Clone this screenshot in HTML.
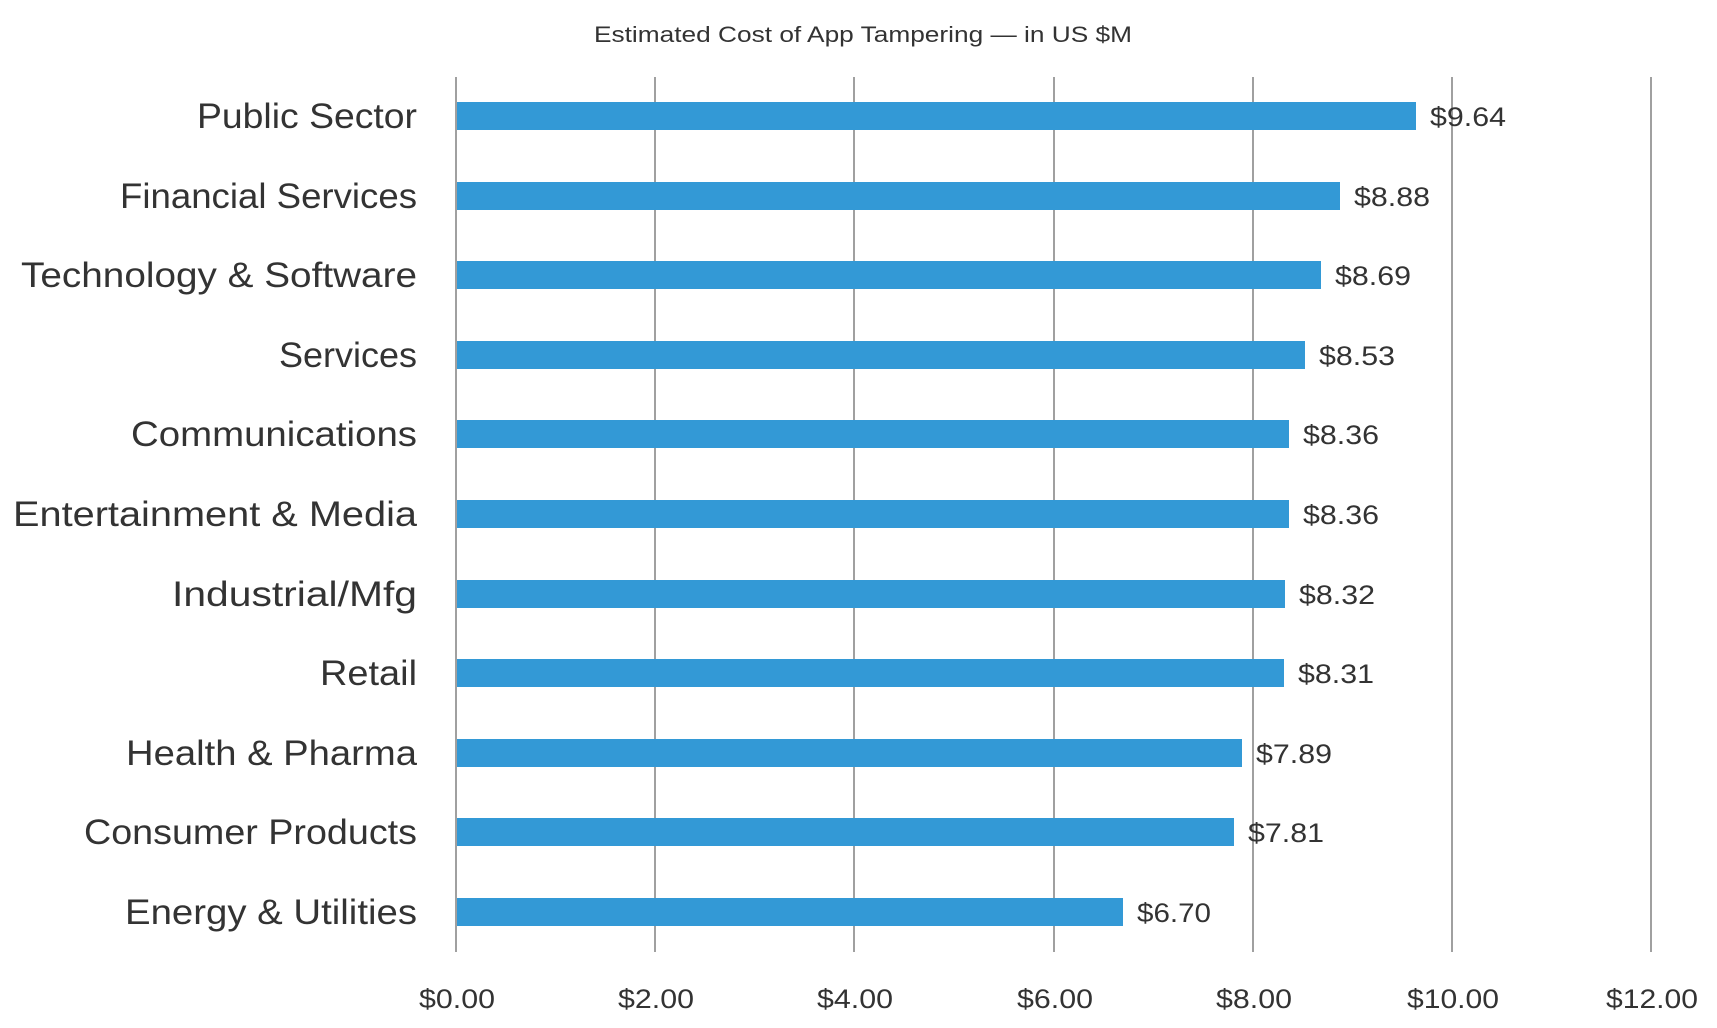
<!DOCTYPE html>
<html><head><meta charset="utf-8"><style>
html,body{margin:0;padding:0;background:#fff;}
svg{display:block;}
text{font-family:"Liberation Sans",sans-serif;fill:#333;}
</style></head><body>
<svg width="1717" height="1028" viewBox="0 0 1717 1028">
<text x="863" y="42" font-size="22" text-anchor="middle" textLength="538" lengthAdjust="spacingAndGlyphs">Estimated Cost of App Tampering — in US $M</text>
<g stroke="#a0a0a0" stroke-width="2">
<line x1="456" y1="77" x2="456" y2="952"/>
<line x1="655" y1="77" x2="655" y2="952"/>
<line x1="854" y1="77" x2="854" y2="952"/>
<line x1="1054" y1="77" x2="1054" y2="952"/>
<line x1="1253" y1="77" x2="1253" y2="952"/>
<line x1="1452" y1="77" x2="1452" y2="952"/>
<line x1="1651" y1="77" x2="1651" y2="952"/>
</g>
<g fill="#3399d6">
<rect x="457" y="102" width="959" height="28"/>
<rect x="457" y="182" width="883" height="28"/>
<rect x="457" y="261" width="864" height="28"/>
<rect x="457" y="341" width="848" height="28"/>
<rect x="457" y="420" width="832" height="28"/>
<rect x="457" y="500" width="832" height="28"/>
<rect x="457" y="580" width="828" height="28"/>
<rect x="457" y="659" width="827" height="28"/>
<rect x="457" y="739" width="785" height="28"/>
<rect x="457" y="818" width="777" height="28"/>
<rect x="457" y="898" width="666" height="28"/>
</g>
<g font-size="35" text-anchor="end">
<text x="417" y="128" textLength="220" lengthAdjust="spacingAndGlyphs">Public Sector</text>
<text x="417" y="208" textLength="297" lengthAdjust="spacingAndGlyphs">Financial Services</text>
<text x="417" y="287" textLength="396" lengthAdjust="spacingAndGlyphs">Technology &amp; Software</text>
<text x="417" y="367" textLength="138" lengthAdjust="spacingAndGlyphs">Services</text>
<text x="417" y="446" textLength="286" lengthAdjust="spacingAndGlyphs">Communications</text>
<text x="417" y="526" textLength="404" lengthAdjust="spacingAndGlyphs">Entertainment &amp; Media</text>
<text x="417" y="606" textLength="245" lengthAdjust="spacingAndGlyphs">Industrial/Mfg</text>
<text x="417" y="685" textLength="97" lengthAdjust="spacingAndGlyphs">Retail</text>
<text x="417" y="765" textLength="291" lengthAdjust="spacingAndGlyphs">Health &amp; Pharma</text>
<text x="417" y="844" textLength="333" lengthAdjust="spacingAndGlyphs">Consumer Products</text>
<text x="417" y="924" textLength="292" lengthAdjust="spacingAndGlyphs">Energy &amp; Utilities</text>
</g>
<g font-size="27">
<text x="1430" y="126" textLength="76" lengthAdjust="spacingAndGlyphs">$9.64</text>
<text x="1354" y="206" textLength="76" lengthAdjust="spacingAndGlyphs">$8.88</text>
<text x="1335" y="285" textLength="76" lengthAdjust="spacingAndGlyphs">$8.69</text>
<text x="1319" y="365" textLength="76" lengthAdjust="spacingAndGlyphs">$8.53</text>
<text x="1303" y="444" textLength="76" lengthAdjust="spacingAndGlyphs">$8.36</text>
<text x="1303" y="524" textLength="76" lengthAdjust="spacingAndGlyphs">$8.36</text>
<text x="1299" y="604" textLength="76" lengthAdjust="spacingAndGlyphs">$8.32</text>
<text x="1298" y="683" textLength="76" lengthAdjust="spacingAndGlyphs">$8.31</text>
<text x="1256" y="763" textLength="76" lengthAdjust="spacingAndGlyphs">$7.89</text>
<text x="1248" y="842" textLength="76" lengthAdjust="spacingAndGlyphs">$7.81</text>
<text x="1137" y="922" textLength="74" lengthAdjust="spacingAndGlyphs">$6.70</text>
</g>
<g font-size="27" text-anchor="middle">
<text x="457" y="1008" textLength="76" lengthAdjust="spacingAndGlyphs">$0.00</text>
<text x="656" y="1008" textLength="76" lengthAdjust="spacingAndGlyphs">$2.00</text>
<text x="855" y="1008" textLength="76" lengthAdjust="spacingAndGlyphs">$4.00</text>
<text x="1055" y="1008" textLength="76" lengthAdjust="spacingAndGlyphs">$6.00</text>
<text x="1254" y="1008" textLength="76" lengthAdjust="spacingAndGlyphs">$8.00</text>
<text x="1453" y="1008" textLength="92" lengthAdjust="spacingAndGlyphs">$10.00</text>
<text x="1652" y="1008" textLength="92" lengthAdjust="spacingAndGlyphs">$12.00</text>
</g>
</svg>
</body></html>
